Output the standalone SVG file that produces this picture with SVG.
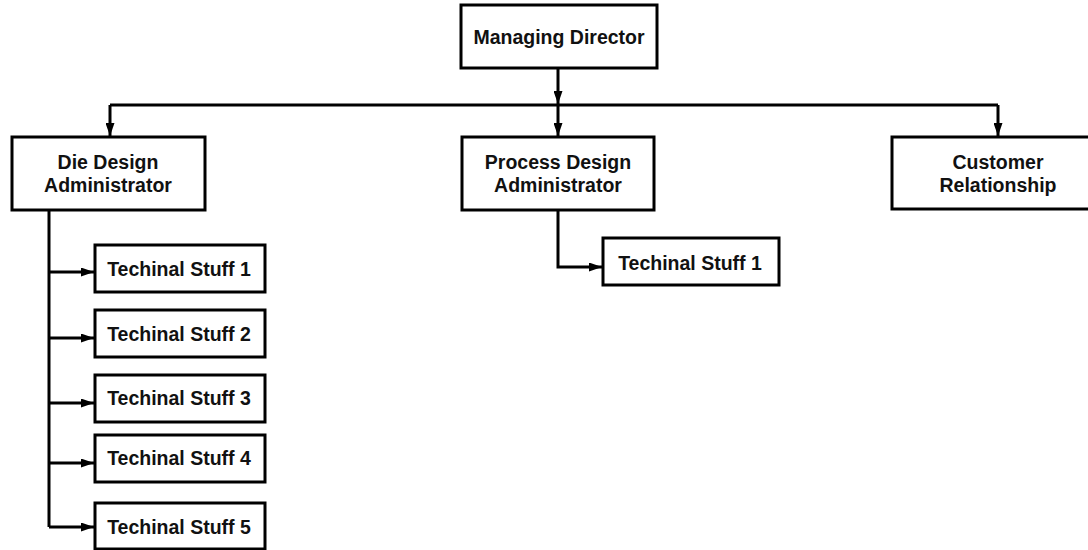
<svg xmlns="http://www.w3.org/2000/svg" width="1088" height="550" viewBox="0 0 1088 550">
<style>
.box{fill:#fff;stroke:#000;stroke-width:3}
.t{font-family:"Liberation Sans",Arial,sans-serif;font-weight:bold;font-size:19.5px;fill:#111;text-anchor:middle}
.c{fill:none;stroke:#000;stroke-width:3}
</style>
<defs>
<marker id="ah" viewBox="0 0 13 9" refX="13" refY="4.5" markerWidth="13" markerHeight="9" markerUnits="userSpaceOnUse" orient="auto">
<path d="M0,0 L13,4.5 L0,9 Z" fill="#000"/>
</marker>
</defs>
<rect width="1088" height="550" fill="#fff"/>
<g id="connectors">
<path class="c" d="M558,69 V104" marker-end="url(#ah)"/>
<path class="c" d="M110,105 H998"/>
<path class="c" d="M110,105 V136" marker-end="url(#ah)"/>
<path class="c" d="M558,105 V136" marker-end="url(#ah)"/>
<path class="c" d="M998,105 V136" marker-end="url(#ah)"/>
<path class="c" d="M49,210 V527"/>
<path class="c" d="M49,272 H94" marker-end="url(#ah)"/>
<path class="c" d="M49,338 H94" marker-end="url(#ah)"/>
<path class="c" d="M49,403 H94" marker-end="url(#ah)"/>
<path class="c" d="M49,463 H94" marker-end="url(#ah)"/>
<path class="c" d="M49,527 H94" marker-end="url(#ah)"/>
<path class="c" d="M558,210 V267 H602" marker-end="url(#ah)"/>
</g>
<g id="managing-director">
<rect class="box" x="461" y="5" width="196" height="63"/>
<text class="t" x="559" y="44">Managing Director</text>
</g>
<g id="die-design">
<rect class="box" x="12" y="137" width="193" height="73"/>
<text class="t" x="108" y="169">Die Design</text>
<text class="t" x="108" y="192">Administrator</text>
</g>
<g id="process-design">
<rect class="box" x="462" y="137" width="192" height="73"/>
<text class="t" x="558" y="169">Process Design</text>
<text class="t" x="558" y="192">Administrator</text>
</g>
<g id="customer">
<rect class="box" x="892" y="137" width="198" height="72"/>
<text class="t" x="998" y="169">Customer</text>
<text class="t" x="998" y="192">Relationship</text>
</g>
<g id="ts1">
<rect class="box" x="95" y="245" width="170" height="47"/>
<text class="t" x="179" y="276">Techinal Stuff 1</text>
</g>
<g id="ts2">
<rect class="box" x="95" y="310" width="170" height="47"/>
<text class="t" x="179" y="341">Techinal Stuff 2</text>
</g>
<g id="ts3">
<rect class="box" x="95" y="375" width="170" height="47"/>
<text class="t" x="179" y="405">Techinal Stuff 3</text>
</g>
<g id="ts4">
<rect class="box" x="95" y="435" width="170" height="47"/>
<text class="t" x="179" y="465">Techinal Stuff 4</text>
</g>
<g id="ts5">
<rect class="box" x="95" y="503" width="170" height="46"/>
<text class="t" x="179" y="534">Techinal Stuff 5</text>
</g>
<g id="pd-ts1">
<rect class="box" x="603" y="238" width="176" height="47"/>
<text class="t" x="690" y="270">Techinal Stuff 1</text>
</g>
</svg>
